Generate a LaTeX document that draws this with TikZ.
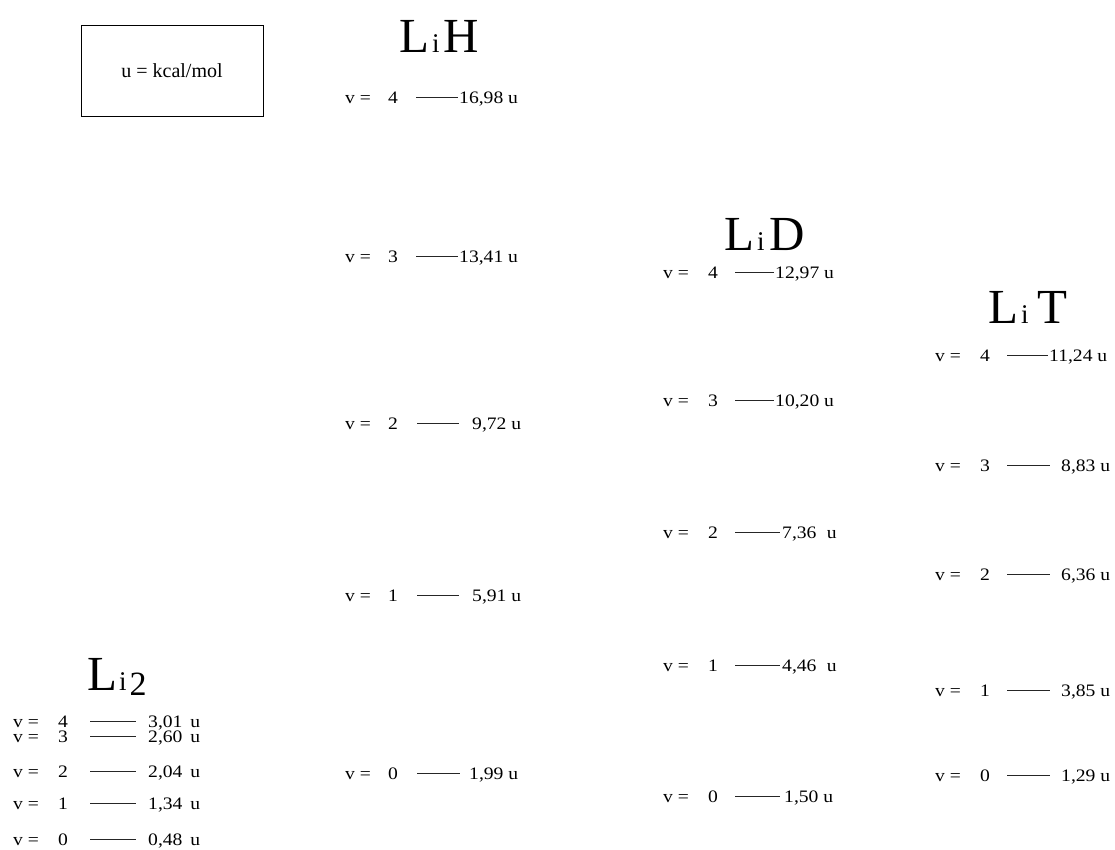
\documentclass[tikz,border=0pt]{standalone}
\usepackage{fontspec}
\setmainfont{Liberation Serif}
\newfontfamily\rowfont[FakeStretch=1.12]{Liberation Serif}
\newcommand\lvrow[9]{%
  \node[txt,anchor=base west] (#1v) at (#3,#2+6) {v =};
  \node[txt,anchor=base west] (#1n) at (#4,#2+6) {#8};
  \coordinate (#1a) at (#5,#2);
  \coordinate (#1b) at (#6,#2);
  \draw[lvl] (#1a) -- (#1b);
  \node[txt,anchor=base west] (#1e) at (#7,#2+6) {#9};
}
\begin{document}
\begin{tikzpicture}[x=1pt,y=-1pt,
  txt/.style={font=\rowfont\fontsize{17.5}{17.5}\selectfont, inner sep=0pt},
  lvl/.style={line width=1pt, black!85},
  ttl/.style={font=\fontsize{49}{49}\selectfont, inner sep=0pt, anchor=base west},
  legend/.style={draw, line width=1pt, minimum width=182pt, minimum height=91pt, inner sep=0pt, font=\fontsize{20}{20}\selectfont}]
\useasboundingbox (0,0) rectangle (1115,849);

\node[legend] (box) at (172,70.5) {u = kcal/mol};

% titles
\node[ttl] (tLiH) at (399,52) {L\hspace{3pt}{\fontsize{27}{27}\selectfont i}\hspace{4pt}H};
\node[ttl] (tLiD) at (724,250) {L\hspace{3pt}{\fontsize{27}{27}\selectfont i}\hspace{5pt}D};
\node[ttl] (tLiT) at (988,323) {L\hspace{3pt}{\fontsize{27}{27}\selectfont i}\hspace{9pt}T};
\node[ttl] (tLi2) at (87,690) {L\hspace{2pt}{\fontsize{27}{27}\selectfont i}\hspace{3pt}\raisebox{-5pt}{\fontsize{34}{34}\selectfont 2}};

% LiH
\lvrow{H4}{97}{345}{388}{416}{458}{459}{4}{16,98 u}
\lvrow{H3}{256}{345}{388}{416}{458}{459}{3}{13,41 u}
\lvrow{H2}{423}{345}{388}{417}{459}{472}{2}{9,72 u}
\lvrow{H1}{595}{345}{388}{417}{459}{472}{1}{5,91 u}
\lvrow{H0}{773}{345}{388}{417}{460}{469}{0}{1,99 u}

% LiD
\lvrow{D4}{272}{663}{708}{735}{774}{775}{4}{12,97 u}
\lvrow{D3}{400}{663}{708}{735}{774}{775}{3}{10,20 u}
\lvrow{D2}{532}{663}{708}{735}{780}{782}{2}{7,36\hspace{0.6em}u}
\lvrow{D1}{665}{663}{708}{735}{780}{782}{1}{4,46\hspace{0.6em}u}
\lvrow{D0}{796}{663}{708}{735}{780}{784}{0}{1,50 u}

% LiT
\lvrow{T4}{355}{935}{980}{1007}{1048}{1049}{4}{11,24 u}
\lvrow{T3}{465}{935}{980}{1007}{1050}{1061}{3}{8,83 u}
\lvrow{T2}{574}{935}{980}{1007}{1050}{1061}{2}{6,36 u}
\lvrow{T1}{690}{935}{980}{1007}{1050}{1061}{1}{3,85 u}
\lvrow{T0}{775}{935}{980}{1007}{1050}{1061}{0}{1,29 u}

% Li2
\lvrow{L4}{721}{13}{58}{90}{136}{148}{4}{3,01\hspace{0.45em}u}
\lvrow{L3}{736}{13}{58}{90}{136}{148}{3}{2,60\hspace{0.45em}u}
\lvrow{L2}{771}{13}{58}{90}{136}{148}{2}{2,04\hspace{0.45em}u}
\lvrow{L1}{803}{13}{58}{90}{136}{148}{1}{1,34\hspace{0.45em}u}
\lvrow{L0}{839}{13}{58}{90}{136}{148}{0}{0,48\hspace{0.45em}u}
\end{tikzpicture}
\end{document}
